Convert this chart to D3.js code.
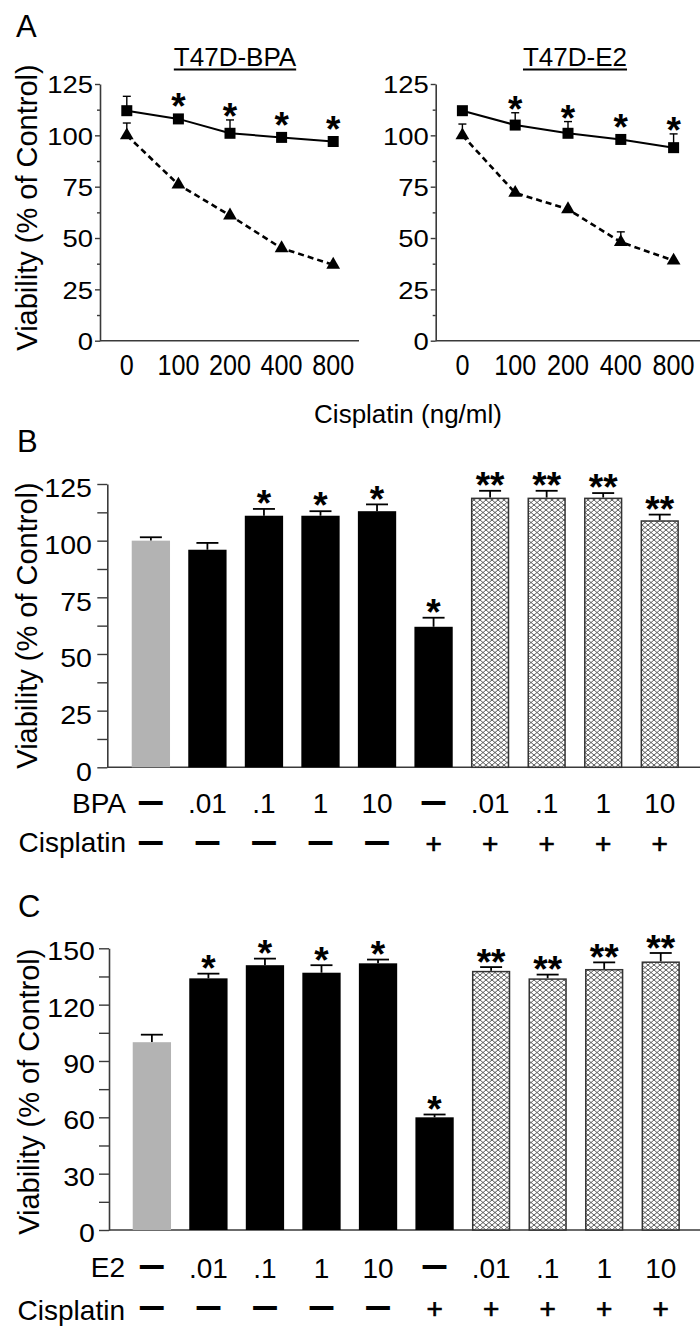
<!DOCTYPE html>
<html><head><meta charset="utf-8">
<script src="https://cdn.jsdelivr.net/npm/d3@7/dist/d3.min.js"></script>
<style>
body{margin:0;background:#fff}
svg{display:block}
text{font-family:"Liberation Sans",Arial,Helvetica,sans-serif;fill:#000}
</style>
</head><body>
<svg id="c" width="700" height="1326"></svg>
<script>
// ---------- Panel A data ----------
const doses = ["0","100","200","400","800"];
const bpaAlone    = [112,108,101,99,97];
const bpaAloneErr = [7,2,6.5,2,2];
const bpaCis      = [100,76,61,45,37];
const bpaCisErr   = [6,0,0,0,0];
const e2Alone     = [112,105,101,98,94];
const e2AloneErr  = [0,6,5.7,2,6.7];
const e2Cis       = [100,72,64,48,39];
const e2CisErr    = [5.5,0,0,5,0];
const aStars      = ["","*","*","*","*"];
const aTicks      = [0,25,50,75,100,125];
const aMinor      = [12.5,37.5,62.5,87.5,112.5];

// ---------- Panel B data ----------
const bCats   = ["b0","b1","b2","b3","b4","b5","b6","b7","b8","b9"];
const bDose   = ["—",".01",".1","1","10","—",".01",".1","1","10"];
const bCis    = ["—","—","—","—","—","+","+","+","+","+"];
const bValues = [100,96,111,111,113,62,119,119,119,109];
const bErr    = [1.5,3,3,2,3,4,3,3,2,2.5];
const bStars  = ["","","*","*","*","*","**","**","**","**"];
const bTicks  = [0,25,50,75,100,125];
const bMinor  = [12.5,37.5,62.5,87.5,112.5];

// ---------- Panel C data ----------
const cCats   = ["c0","c1","c2","c3","c4","c5","c6","c7","c8","c9"];
const cDose   = ["—",".01",".1","1","10","—",".01",".1","1","10"];
const cCis    = ["—","—","—","—","—","+","+","+","+","+"];
const cValues = [100,134,141,137,142,60,138,134,139,143];
const cErr    = [4,2.5,3.5,4,2,1.5,2,2,3.5,4.5];
const cStars  = ["","*","*","*","*","*","**","**","**","**"];
const cTicks  = [0,30,60,90,120,150];
const cMinor  = [15,45,75,105,135];

// bar style groups: control, agent alone, cisplatin alone, combination
const groups  = ["ctrl","agent","agent","agent","agent","agent","combo","combo","combo","combo"];

const svg = d3.select("#c");
const AX = "#3a3a3a";

const defs = svg.append("defs");
const pat = defs.append("pattern").attr("id","hatch").attr("patternUnits","userSpaceOnUse")
  .attr("width",6).attr("height",5);
pat.append("rect").attr("width",6).attr("height",5).attr("fill","#fff");
pat.append("path").attr("d","M0,0L6,5M6,0L0,5").attr("stroke","#4a4a4a").attr("stroke-width",0.9).attr("fill","none");

function styleAxis(g){
  g.selectAll(".domain").attr("stroke",AX).attr("stroke-width",1.6);
  g.selectAll(".tick line").attr("stroke",AX).attr("stroke-width",1.4);
}

function yAxis(g, y, x, ticks, minor, tickLen, labX, fs, sx, dy){
  const major = g.append("g").attr("transform",`translate(${x},0)`)
    .call(d3.axisLeft(y).tickValues(ticks).tickSize(tickLen).tickSizeOuter(0).tickFormat(d3.format("d")));
  styleAxis(major);
  major.selectAll(".tick text").attr("font-size",fs).attr("font-family",null)
    .attr("x", labX/sx).attr("dy",dy).attr("transform",`scale(${sx},1)`).attr("fill","#000");
  const mn = g.append("g").attr("transform",`translate(${x},0)`)
    .call(d3.axisLeft(y).tickValues(minor).tickSize(tickLen).tickFormat(""));
  mn.select(".domain").remove();
  styleAxis(mn);
}

function star(g, cx, cy, s){
  const fs = 37;
  g.append("text").attr("x",cx).attr("y",cy + 0.575*fs).attr("text-anchor","middle")
    .attr("font-size",fs).attr("font-weight","bold").text(s);
}

// ---------- Panel A ----------
const yA = d3.scaleLinear().domain([0,125]).range([340.7,84]);

function panelA(axisX, x0, x1, title, titleX, alone, aloneErr, cis, cisErr){
  const g = svg.append("g");
  const x = d3.scalePoint().domain(doses).range([x0,x1]).padding(0.5);
  yAxis(g, yA, axisX, aTicks, [], 5, -7, 24.5, 1.12, "0.36em");
  const mn = g.append("g").attr("transform",`translate(${axisX},0)`)
    .call(d3.axisLeft(yA).tickValues(aMinor).tickSize(3).tickFormat(""));
  mn.select(".domain").remove(); styleAxis(mn);
  g.append("line").attr("x1",axisX).attr("x2",x1).attr("y1",yA(0)).attr("y2",yA(0))
    .attr("stroke",AX).attr("stroke-width",1.6);
  doses.forEach(d=>{
    g.append("text").attr("transform",`translate(${x(d)},375) scale(0.84,1)`)
      .attr("text-anchor","middle").attr("font-size",30).text(d);
  });
  const line = d3.line().x((d,i)=>x(doses[i])).y(d=>yA(d));
  g.append("path").attr("d",line(cis)).attr("fill","none").attr("stroke","#000")
    .attr("stroke-width",2.6).attr("stroke-dasharray","6,4");
  g.append("path").attr("d",line(alone)).attr("fill","none").attr("stroke","#000").attr("stroke-width",2);
  // error bars
  [[alone,aloneErr],[cis,cisErr]].forEach(([v,e])=>{
    v.forEach((val,i)=>{
      if(!e[i]) return;
      const cx = x(doses[i]), yt = yA(val+e[i]);
      g.append("line").attr("x1",cx).attr("x2",cx).attr("y1",yA(val)).attr("y2",yt).attr("stroke","#000").attr("stroke-width",1.4);
      g.append("line").attr("x1",cx-4).attr("x2",cx+4).attr("y1",yt).attr("y2",yt).attr("stroke","#000").attr("stroke-width",1.4);
    });
  });
  cis.forEach((v,i)=>{
    g.append("path").attr("d",d3.symbol(d3.symbolTriangle,82)())
      .attr("transform",`translate(${x(doses[i])},${yA(v)})`).attr("fill","#000");
  });
  alone.forEach((v,i)=>{
    g.append("rect").attr("x",x(doses[i])-5.5).attr("y",yA(v)-5.5).attr("width",11).attr("height",11).attr("fill","#000");
    if(aStars[i]){
      const cy = Math.min(yA(v)-21, yA(v+aloneErr[i])-12);
      star(g, x(doses[i]), cy, aStars[i]);
    }
  });
  const t = g.append("text").attr("x",titleX).attr("y",65.7).attr("text-anchor","middle")
    .attr("font-size",26).text(title);
  const w = t.node().getComputedTextLength();
  g.append("line").attr("x1",titleX-w/2).attr("x2",titleX+w/2).attr("y1",69.5).attr("y2",69.5)
    .attr("stroke","#000").attr("stroke-width",2);
}

panelA(100, 101, 359, "T47D-BPA", 235, bpaAlone, bpaAloneErr, bpaCis, bpaCisErr);
panelA(435.7, 436, 700, "T47D-E2", 575, e2Alone, e2AloneErr, e2Cis, e2CisErr);

svg.append("text").attr("x",408).attr("y",422.7).attr("text-anchor","middle").attr("font-size",26).text("Cisplatin (ng/ml)");

// ---------- Bar panels ----------
function panelBar(opt){
  const g = svg.append("g");
  const y = d3.scaleLinear().domain([0,opt.max]).range([opt.y0,opt.y1]);
  const x = d3.scaleBand().domain(opt.cats).range(opt.xr).paddingInner(0.3226).paddingOuter(0.1613);
  yAxis(g, y, opt.axisX, opt.ticks, opt.minor, 10, opt.labX, 25.5, 1.12, opt.dy);
  g.append("line").attr("x1",opt.axisX).attr("x2",700).attr("y1",y(0)).attr("y2",y(0))
    .attr("stroke",AX).attr("stroke-width",1.6);
  opt.values.forEach((v,i)=>{
    const c = opt.cats[i], gr = groups[i];
    const bx = x(c), bw = x.bandwidth(), cx = bx + bw/2;
    const yt = y(v+opt.err[i]);
    g.append("line").attr("x1",cx).attr("x2",cx).attr("y1",y(v)).attr("y2",yt).attr("stroke","#000").attr("stroke-width",1.8);
    g.append("line").attr("x1",cx-11).attr("x2",cx+11).attr("y1",yt).attr("y2",yt).attr("stroke","#000").attr("stroke-width",1.8);
    const r = g.append("rect").attr("x",bx).attr("y",y(v)).attr("width",bw).attr("height",y(0)-y(v));
    if(gr==="ctrl") r.attr("fill","#b3b3b3");
    else if(gr==="agent") r.attr("fill","#000");
    else r.attr("fill","url(#hatch)").attr("stroke","#333").attr("stroke-width",1.5)
      .attr("x",bx+0.75).attr("width",bw-1.5).attr("y",y(v)+0.75).attr("height",y(0)-y(v)-0.75);
    if(opt.stars[i]) star(g, cx, yt - opt.starGap, opt.stars[i]);
  });
  // label rows
  const rows = [[opt.row1, opt.c1, opt.h1, opt.hb1],[opt.row2, opt.c2, opt.h2, opt.hb2]];
  rows.forEach(([labels, cy, head, hb])=>{
    g.append("text").attr("x",opt.headX).attr("y",hb).attr("text-anchor","end").attr("font-size",28).text(head);
    labels.forEach((s,i)=>{
      const cx = x(opt.cats[i]) + x.bandwidth()/2;
      const t = g.append("text").attr("x",cx).attr("text-anchor","middle").text(s);
      if(s==="—") t.attr("font-size",22).attr("font-weight","bold").attr("y",cy+0.27*22)
        .attr("stroke","#000").attr("stroke-width",1.8);
      else if(s==="+") t.attr("font-size",28).attr("y",cy+0.35*28).attr("stroke","#000").attr("stroke-width",0.7);
      else t.attr("font-size",28).attr("y",cy+0.36*28);
    });
  });
}

panelBar({cats:bCats, max:125, y0:767.3, y1:484, xr:[122.6,688], axisX:107.3,
  ticks:bTicks, minor:bMinor, labX:-15.3, dy:"0.5em",
  values:bValues, err:bErr, stars:bStars, starGap:14,
  row1:bDose, c1:803, h1:"BPA", hb1:813,
  row2:bCis, c2:843, h2:"Cisplatin", hb2:852, headX:126});

panelBar({cats:cCats, max:150, y0:1230, y1:948.3, xr:[123.6,689], axisX:109,
  ticks:cTicks, minor:cMinor, labX:-14, dy:"0.45em",
  values:cValues, err:cErr, stars:cStars, starGap:13.5,
  row1:cDose, c1:1267.5, h1:"E2", hb1:1277,
  row2:cCis, c2:1308.5, h2:"Cisplatin", hb2:1319.5, headX:125});

// y-axis titles
[[37,207.5],[37,625.5],[39,1091.7]].forEach(([px,py])=>{
  svg.append("text").attr("transform",`translate(${px},${py}) rotate(-90)`).attr("text-anchor","middle")
    .attr("font-size",29).text("Viability (% of Control)");
});
// panel letters
[["A",16,36.7],["B",17,451.7],["C",18,916.7]].forEach(([s,px,py])=>{
  svg.append("text").attr("x",px).attr("y",py).attr("font-size",31).text(s);
});
</script>
</body></html>
